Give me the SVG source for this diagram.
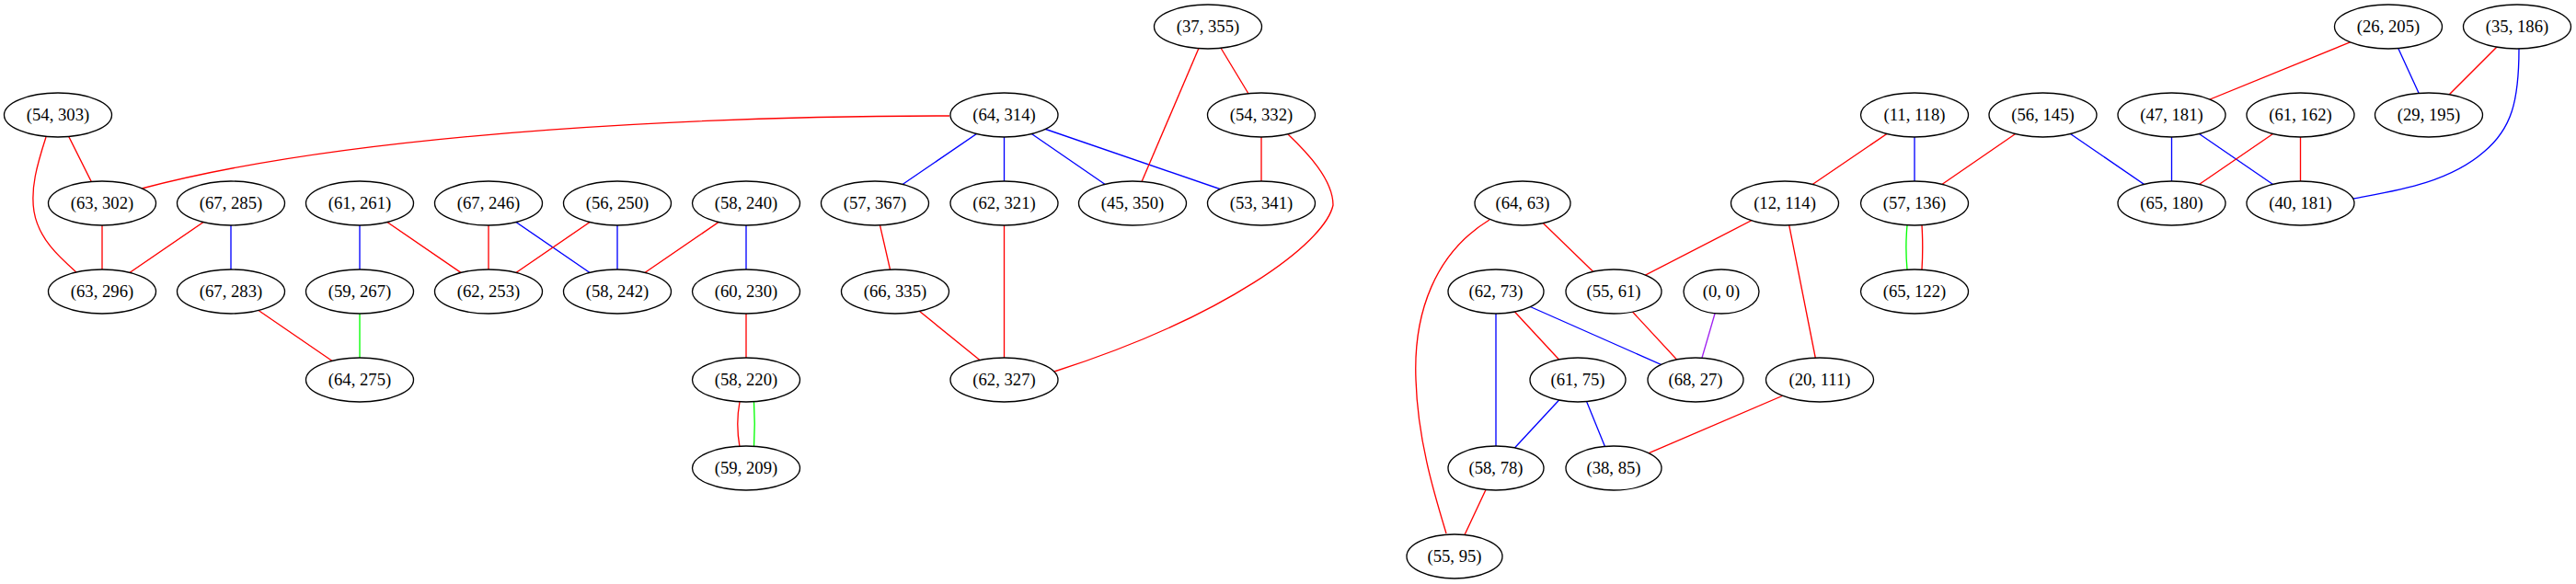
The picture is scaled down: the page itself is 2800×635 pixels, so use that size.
<svg xmlns="http://www.w3.org/2000/svg" width="2800" height="635" viewBox="0 0 2800 635">
<style>
.n ellipse{fill:#fff;stroke:#000;stroke-width:1.33}
.n text{font-family:"Liberation Serif","Times New Roman",serif;font-size:18.67px;text-anchor:middle;fill:#000}
#edges path,#edges line{fill:none;stroke-width:1.33}
.r{stroke:#ff0000}.b{stroke:#0000ff}.g{stroke:#00ff00}.p{stroke:#a020f0}
</style>
<rect width="2800" height="635" fill="#fff"/>
<g id="edges">
<!-- left component -->
<line class="r" x1="63" y1="125" x2="111" y2="221"/>
<path class="r" d="M50,149 C40,180 33,205 37,230 C42,260 65,280 83,296"/>
<path class="r" d="M1032,126 C800,126 400,140 154,205"/>
<line class="r" x1="111" y1="221" x2="111" y2="317"/>
<line class="r" x1="251" y1="221" x2="111" y2="317"/>
<line class="b" x1="251" y1="221" x2="251" y2="317"/>
<line class="r" x1="251" y1="317" x2="391" y2="413"/>
<line class="b" x1="391" y1="221" x2="391" y2="317"/>
<line class="r" x1="391" y1="221" x2="531" y2="317"/>
<line class="g" x1="391" y1="317" x2="391" y2="413"/>
<line class="r" x1="531" y1="221" x2="531" y2="317"/>
<line class="b" x1="531" y1="221" x2="671" y2="317"/>
<line class="r" x1="671" y1="221" x2="531" y2="317"/>
<line class="b" x1="671" y1="221" x2="671" y2="317"/>
<line class="r" x1="811" y1="221" x2="671" y2="317"/>
<line class="b" x1="811" y1="221" x2="811" y2="317"/>
<line class="r" x1="811" y1="317" x2="811" y2="413"/>
<path class="r" d="M804,437 C801,453 801,469 804,486"/>
<path class="g" d="M819.5,437 C820.5,453 820.5,469 819.5,486"/>
<line class="b" x1="1091.5" y1="125" x2="951" y2="221"/>
<line class="b" x1="1091.5" y1="125" x2="1091.5" y2="221"/>
<line class="b" x1="1091.5" y1="125" x2="1231" y2="221"/>
<line class="b" x1="1091.5" y1="125" x2="1371" y2="221"/>
<line class="r" x1="1313" y1="29" x2="1231" y2="221"/>
<line class="r" x1="1313" y1="29" x2="1371" y2="125"/>
<line class="r" x1="1371" y1="125" x2="1371" y2="221"/>
<path class="r" d="M1400,146 C1420,165 1449,195 1449,223 C1440,265 1330,345 1146,404"/>
<line class="r" x1="951" y1="221" x2="973" y2="317"/>
<line class="r" x1="973" y1="317" x2="1091.5" y2="413"/>
<line class="r" x1="1091.5" y1="221" x2="1091.5" y2="413"/>
<!-- right component -->
<path class="r" d="M1619,239 C1560,275 1536,340 1539,413 C1541,480 1560,540 1572,580"/>
<line class="r" x1="1655" y1="221" x2="1754" y2="317"/>
<line class="r" x1="1940" y1="221" x2="1754" y2="317"/>
<line class="r" x1="1940" y1="221" x2="1978" y2="413"/>
<line class="r" x1="2081" y1="125" x2="1940" y2="221"/>
<line class="b" x1="2081" y1="125" x2="2081" y2="221"/>
<line class="r" x1="2220.5" y1="125" x2="2081" y2="221"/>
<line class="b" x1="2220.5" y1="125" x2="2360.5" y2="221"/>
<path class="g" d="M2073,245 C2071.5,261 2071.5,277 2073,293"/>
<path class="r" d="M2089,245 C2090,261 2090,277 2089,293"/>
<line class="b" x1="2360.5" y1="125" x2="2360.5" y2="221"/>
<line class="b" x1="2360.5" y1="125" x2="2500.5" y2="221"/>
<line class="r" x1="2500.5" y1="125" x2="2360.5" y2="221"/>
<line class="r" x1="2500.5" y1="125" x2="2500.5" y2="221"/>
<line class="r" x1="2596" y1="29" x2="2360.5" y2="125"/>
<line class="b" x1="2596" y1="29" x2="2640" y2="125"/>
<line class="r" x1="2736" y1="29" x2="2640" y2="125"/>
<path class="b" d="M2738,53 C2738,110 2730,140 2700,165 C2660,200 2600,208 2558,216"/>
<line class="b" x1="1626" y1="317" x2="1626" y2="509"/>
<line class="r" x1="1626" y1="317" x2="1715" y2="413"/>
<line class="b" x1="1626" y1="317" x2="1843" y2="413"/>
<line class="r" x1="1754" y1="317" x2="1843" y2="413"/>
<line class="p" x1="1871" y1="317" x2="1843" y2="413"/>
<line class="b" x1="1715" y1="413" x2="1626" y2="509"/>
<line class="b" x1="1715" y1="413" x2="1754" y2="509"/>
<line class="r" x1="1978" y1="413" x2="1754" y2="509"/>
<line class="r" x1="1626" y1="509" x2="1581" y2="605"/>
</g>
<g id="n37_355" class="n"><ellipse cx="1313" cy="29" rx="58.5" ry="24"/><text x="1313" y="35">(37, 355)</text></g>
<g id="n54_303" class="n"><ellipse cx="63" cy="125" rx="58.5" ry="24"/><text x="63" y="131">(54, 303)</text></g>
<g id="n64_314" class="n"><ellipse cx="1091.5" cy="125" rx="58.5" ry="24"/><text x="1091.5" y="131">(64, 314)</text></g>
<g id="n54_332" class="n"><ellipse cx="1371" cy="125" rx="58.5" ry="24"/><text x="1371" y="131">(54, 332)</text></g>
<g id="n63_302" class="n"><ellipse cx="111" cy="221" rx="58.5" ry="24"/><text x="111" y="227">(63, 302)</text></g>
<g id="n67_285" class="n"><ellipse cx="251" cy="221" rx="58.5" ry="24"/><text x="251" y="227">(67, 285)</text></g>
<g id="n61_261" class="n"><ellipse cx="391" cy="221" rx="58.5" ry="24"/><text x="391" y="227">(61, 261)</text></g>
<g id="n67_246" class="n"><ellipse cx="531" cy="221" rx="58.5" ry="24"/><text x="531" y="227">(67, 246)</text></g>
<g id="n56_250" class="n"><ellipse cx="671" cy="221" rx="58.5" ry="24"/><text x="671" y="227">(56, 250)</text></g>
<g id="n58_240" class="n"><ellipse cx="811" cy="221" rx="58.5" ry="24"/><text x="811" y="227">(58, 240)</text></g>
<g id="n57_367" class="n"><ellipse cx="951" cy="221" rx="58.5" ry="24"/><text x="951" y="227">(57, 367)</text></g>
<g id="n62_321" class="n"><ellipse cx="1091.5" cy="221" rx="58.5" ry="24"/><text x="1091.5" y="227">(62, 321)</text></g>
<g id="n45_350" class="n"><ellipse cx="1231" cy="221" rx="58.5" ry="24"/><text x="1231" y="227">(45, 350)</text></g>
<g id="n53_341" class="n"><ellipse cx="1371" cy="221" rx="58.5" ry="24"/><text x="1371" y="227">(53, 341)</text></g>
<g id="n63_296" class="n"><ellipse cx="111" cy="317" rx="58.5" ry="24"/><text x="111" y="323">(63, 296)</text></g>
<g id="n67_283" class="n"><ellipse cx="251" cy="317" rx="58.5" ry="24"/><text x="251" y="323">(67, 283)</text></g>
<g id="n59_267" class="n"><ellipse cx="391" cy="317" rx="58.5" ry="24"/><text x="391" y="323">(59, 267)</text></g>
<g id="n62_253" class="n"><ellipse cx="531" cy="317" rx="58.5" ry="24"/><text x="531" y="323">(62, 253)</text></g>
<g id="n58_242" class="n"><ellipse cx="671" cy="317" rx="58.5" ry="24"/><text x="671" y="323">(58, 242)</text></g>
<g id="n60_230" class="n"><ellipse cx="811" cy="317" rx="58.5" ry="24"/><text x="811" y="323">(60, 230)</text></g>
<g id="n66_335" class="n"><ellipse cx="973" cy="317" rx="58.5" ry="24"/><text x="973" y="323">(66, 335)</text></g>
<g id="n64_275" class="n"><ellipse cx="391" cy="413" rx="58.5" ry="24"/><text x="391" y="419">(64, 275)</text></g>
<g id="n58_220" class="n"><ellipse cx="811" cy="413" rx="58.5" ry="24"/><text x="811" y="419">(58, 220)</text></g>
<g id="n62_327" class="n"><ellipse cx="1091.5" cy="413" rx="58.5" ry="24"/><text x="1091.5" y="419">(62, 327)</text></g>
<g id="n59_209" class="n"><ellipse cx="811" cy="509" rx="58.5" ry="24"/><text x="811" y="515">(59, 209)</text></g>
<g id="n26_205" class="n"><ellipse cx="2596" cy="29" rx="58.5" ry="24"/><text x="2596" y="35">(26, 205)</text></g>
<g id="n35_186" class="n"><ellipse cx="2736" cy="29" rx="58.5" ry="24"/><text x="2736" y="35">(35, 186)</text></g>
<g id="n11_118" class="n"><ellipse cx="2081" cy="125" rx="58.5" ry="24"/><text x="2081" y="131">(11, 118)</text></g>
<g id="n56_145" class="n"><ellipse cx="2220.5" cy="125" rx="58.5" ry="24"/><text x="2220.5" y="131">(56, 145)</text></g>
<g id="n47_181" class="n"><ellipse cx="2360.5" cy="125" rx="58.5" ry="24"/><text x="2360.5" y="131">(47, 181)</text></g>
<g id="n61_162" class="n"><ellipse cx="2500.5" cy="125" rx="58.5" ry="24"/><text x="2500.5" y="131">(61, 162)</text></g>
<g id="n29_195" class="n"><ellipse cx="2640" cy="125" rx="58.5" ry="24"/><text x="2640" y="131">(29, 195)</text></g>
<g id="n64_63" class="n"><ellipse cx="1655" cy="221" rx="52" ry="24"/><text x="1655" y="227">(64, 63)</text></g>
<g id="n12_114" class="n"><ellipse cx="1940" cy="221" rx="58.5" ry="24"/><text x="1940" y="227">(12, 114)</text></g>
<g id="n57_136" class="n"><ellipse cx="2081" cy="221" rx="58.5" ry="24"/><text x="2081" y="227">(57, 136)</text></g>
<g id="n65_180" class="n"><ellipse cx="2360.5" cy="221" rx="58.5" ry="24"/><text x="2360.5" y="227">(65, 180)</text></g>
<g id="n40_181" class="n"><ellipse cx="2500.5" cy="221" rx="58.5" ry="24"/><text x="2500.5" y="227">(40, 181)</text></g>
<g id="n62_73" class="n"><ellipse cx="1626" cy="317" rx="52" ry="24"/><text x="1626" y="323">(62, 73)</text></g>
<g id="n55_61" class="n"><ellipse cx="1754" cy="317" rx="52" ry="24"/><text x="1754" y="323">(55, 61)</text></g>
<g id="n0_0" class="n"><ellipse cx="1871" cy="317" rx="41" ry="24"/><text x="1871" y="323">(0, 0)</text></g>
<g id="n65_122" class="n"><ellipse cx="2081" cy="317" rx="58.5" ry="24"/><text x="2081" y="323">(65, 122)</text></g>
<g id="n61_75" class="n"><ellipse cx="1715" cy="413" rx="52" ry="24"/><text x="1715" y="419">(61, 75)</text></g>
<g id="n68_27" class="n"><ellipse cx="1843" cy="413" rx="52" ry="24"/><text x="1843" y="419">(68, 27)</text></g>
<g id="n20_111" class="n"><ellipse cx="1978" cy="413" rx="58.5" ry="24"/><text x="1978" y="419">(20, 111)</text></g>
<g id="n58_78" class="n"><ellipse cx="1626" cy="509" rx="52" ry="24"/><text x="1626" y="515">(58, 78)</text></g>
<g id="n38_85" class="n"><ellipse cx="1754" cy="509" rx="52" ry="24"/><text x="1754" y="515">(38, 85)</text></g>
<g id="n55_95" class="n"><ellipse cx="1581" cy="605" rx="52" ry="24"/><text x="1581" y="611">(55, 95)</text></g>
</svg>
